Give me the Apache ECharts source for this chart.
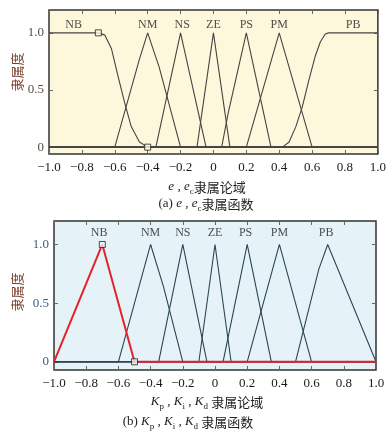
<!DOCTYPE html>
<html><head><meta charset="utf-8">
<script src="https://cdn.jsdelivr.net/npm/echarts@6/dist/echarts.min.js"></script>
<style>html,body{margin:0;padding:0;background:#fff}#c{width:389px;height:435px}</style>
</head><body><div id="c"></div>
<script>
const mfNames = ['NB','NM','NS','ZE','PS','PM','PB'];
const yTickValues = [0, 0.5, 1.0];
// (a) e, ec membership functions
const eNB = [[-1,1],[-0.7,1],[-0.66,0.98],[-0.62,0.86],[-0.58,0.62],[-0.54,0.39],[-0.5,0.18],[-0.45,0.045],[-0.4,0],[1,0]];
const eNM = [[-1,0],[-0.6,0],[-0.45,0.77],[-0.4,1],[-0.33,0.7],[-0.2,0],[1,0]];
const eNS = [[-1,0],[-0.35,0],[-0.2,1],[-0.045,0],[1,0]];
const eZE = [[-1,0],[-0.1,0],[0,1],[0.1,0],[1,0]];
const ePS = [[-1,0],[0.05,0],[0.09,0.3],[0.2,1],[0.35,0],[1,0]];
const ePM = [[-1,0],[0.2,0],[0.4,1],[0.6,0],[1,0]];
const ePB = [[-1,0],[0.42,0],[0.46,0.045],[0.5,0.175],[0.54,0.35],[0.58,0.585],[0.62,0.8],[0.65,0.92],[0.68,0.99],[0.7,1],[1,1]];
const eMarkers = [[-0.7,1],[-0.4,0]];
const eLabelX = [-0.85,-0.4,-0.19,0,0.2,0.4,0.85];
const eLabelY = 1.07;
// (b) Kp, Ki, Kd membership functions
const kNB = [[-1,0],[-0.7,1],[-0.5,0],[1,0]];
const kNM = [[-1,0],[-0.6,0],[-0.4,1],[-0.32,0.64],[-0.2,0],[1,0]];
const kNS = [[-1,0],[-0.35,0],[-0.2,1],[-0.05,0],[1,0]];
const kZE = [[-1,0],[-0.1,0],[0,1],[0.1,0],[1,0]];
const kPS = [[-1,0],[0.05,0],[0.2,1],[0.35,0],[1,0]];
const kPM = [[-1,0],[0.2,0],[0.4,1],[0.6,0],[1,0]];
const kPB = [[-1,0],[0.5,0],[0.645,0.79],[0.7,1],[1,0]];
const kMarkers = [[-0.7,1],[-0.5,0]];
const kLabelX = [-0.72,-0.4,-0.2,0,0.19,0.4,0.69];
const kLabelY = 1.1;

const chart = echarts.init(document.getElementById('c'), null, {renderer:'canvas'});
const serif = '"Liberation Serif","DejaVu Serif",serif';
const cjk = '"Noto Sans CJK SC",sans-serif';
const fmtX = v => Math.abs(v) < 1e-9 ? '0' : (v < 0 ? '\u2212' : '') + Math.abs(v).toFixed(1);
const fmtY = v => Math.abs(v) < 1e-9 ? '0' : v.toFixed(1);

function xAx(grid, pos, showLabel) {
  return {type:'value', gridIndex:grid, position:pos, min:-1, max:1, interval:0.2,
    axisLine:{show:false, onZero:false}, splitLine:{show:false},
    axisTick:{show:true, inside:true, length:4, lineStyle:{color:'#666', width:1}},
    axisLabel:{show:showLabel, margin:7, formatter:fmtX, fontFamily:serif, fontSize:13, color:'#1a1a1a', showMinLabel:true, showMaxLabel:true}};
}
function yAx(grid, pos, showLabel, min, color) {
  return {type:'value', gridIndex:grid, position:pos, min:min, max:1.2,
    axisLine:{show:false, onZero:false}, splitLine:{show:false},
    axisTick:{show:true, inside:true, length:4, customValues:yTickValues, lineStyle:{color:'#666', width:1}},
    axisLabel:{show:showLabel, margin:5, customValues:yTickValues, formatter:fmtY, fontFamily:serif, fontSize:13, color:color}};
}
function mf(data, xi, yi, color, width, z) {
  return {type:'line', xAxisIndex:xi, yAxisIndex:yi, data:data, symbol:'none', z:z||2,
    lineStyle:{color:color, width:width}, silent:true};
}
function markers(data, xi, yi, bg) {
  return {type:'scatter', xAxisIndex:xi, yAxisIndex:yi, data:data, symbol:'rect', symbolSize:6, z:5,
    itemStyle:{color:bg, borderColor:'#222', borderWidth:1}, silent:true};
}
function labels(xs, y, xi, yi) {
  return {type:'scatter', xAxisIndex:xi, yAxisIndex:yi, symbolSize:1, z:6,
    data: xs.map((x,i)=>[x, y, mfNames[i]]),
    itemStyle:{color:'transparent'},
    label:{show:true, position:'inside', formatter:p=>p.data[2], fontFamily:serif, fontSize:12, color:'#222'}, silent:true};
}
const topBg = '#fdf8db', botBg = '#e5f3f9';
const topLine = '#444', botLine = '#2a4650';

const rich = {
  i:{fontSize:13, fontFamily:serif, fontStyle:'italic', fill:'#222', lineHeight:18},
  s:{fontSize:9, fontFamily:serif, fill:'#222', lineHeight:18, padding:[9,0,0,0]},
  t:{fontSize:13, fontFamily:serif, fill:'#222', lineHeight:18},
  cn:{fontSize:13, fontFamily:cjk, fill:'#222', lineHeight:18}
};
function txt(x, y, text) {
  return {type:'text', x:x, y:y, style:{text:text, rich:rich, align:'center', verticalAlign:'middle', font:'13px '+serif, fill:'#222'}};
}
function yName(x, y) {
  return {type:'text', x:x, y:y, rotation:Math.PI/2, style:{text:'隶属度', align:'center', verticalAlign:'middle', font:'13px '+cjk, fill:'#7a3f30'}};
}

chart.setOption({
  animation:false,
  grid:[
    {left:49, top:10, width:329, height:144, show:true, backgroundColor:topBg, borderColor:'#333', borderWidth:1.5},
    {left:54, top:221, width:322, height:149, show:true, backgroundColor:botBg, borderColor:'#333', borderWidth:1.5}
  ],
  xAxis:[xAx(0,'bottom',true), xAx(0,'top',false), xAx(1,'bottom',true), xAx(1,'top',false)],
  yAxis:[yAx(0,'left',true,-0.06,'#5a4d40'), yAx(0,'right',false,-0.06,'#5a4d40'), yAx(1,'left',true,-0.07,'#3b5f80'), yAx(1,'right',false,-0.07,'#3b5f80')],
  series:[
    mf(eNB,0,0,topLine,1.1), mf(eNM,0,0,topLine,1.1), mf(eNS,0,0,topLine,1.1), mf(eZE,0,0,topLine,1.1),
    mf(ePS,0,0,topLine,1.1), mf(ePM,0,0,topLine,1.1), mf(ePB,0,0,topLine,1.1),
    markers(eMarkers,0,0,topBg), labels(eLabelX,eLabelY,0,0),
    mf(kNM,2,2,botLine,1.1), mf(kNS,2,2,botLine,1.1), mf(kZE,2,2,botLine,1.1),
    mf(kPS,2,2,botLine,1.1), mf(kPM,2,2,botLine,1.1), mf(kPB,2,2,botLine,1.1),
    mf(kNB,2,2,'#e3222a',2,4),
    markers(kMarkers,2,2,botBg), labels(kLabelX,kLabelY,2,2)
  ],
  graphic:[
    yName(17,72), yName(17,292),
    txt(207,187,'{i|e}{t| , }{i|e}{s|c}{cn|隶属论域}'),
    txt(206,204,'{t|(a) }{i|e}{t| , }{i|e}{s|c}{cn|隶属函数}'),
    txt(207,402,'{i|K}{s|p}{t| , }{i|K}{s|i}{t| , }{i|K}{s|d}{t| }{cn|隶属论域}'),
    txt(188,422,'{t|(b) }{i|K}{s|p}{t| , }{i|K}{s|i}{t| , }{i|K}{s|d}{t| }{cn|隶属函数}')
  ]
});
</script></body></html>
